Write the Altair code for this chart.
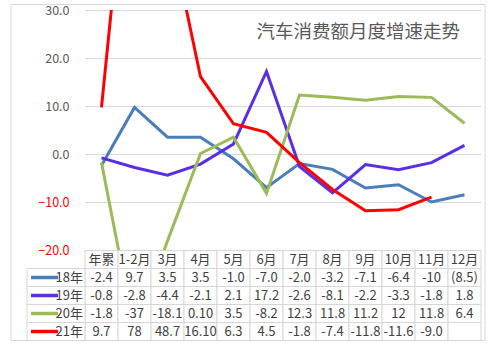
import altair as alt
import pandas as pd

categories = ["年累", "1-2月", "3月", "4月", "5月", "6月", "7月", "8月", "9月", "10月", "11月", "12月"]
series = ["18年", "19年", "20年", "21年"]
colors = ["#4a7ebb", "#5a2ee6", "#9bbb59", "#ff0000"]

v18 = [-2.4, 9.7, 3.5, 3.5, -1.0, -7.0, -2.0, -3.2, -7.1, -6.4, -10, -8.5]
v19 = [-0.8, -2.8, -4.4, -2.1, 2.1, 17.2, -2.6, -8.1, -2.2, -3.3, -1.8, 1.8]
v20 = [-1.8, -37, -18.1, 0.10, 3.5, -8.2, 12.3, 11.8, 11.2, 12, 11.8, 6.4]
v21 = [9.7, 78, 48.7, 16.10, 6.3, 4.5, -1.8, -7.4, -11.8, -11.6, -9.0, None]

t18 = ["-2.4", "9.7", "3.5", "3.5", "-1.0", "-7.0", "-2.0", "-3.2", "-7.1", "-6.4", "-10", "(8.5)"]
t19 = ["-0.8", "-2.8", "-4.4", "-2.1", "2.1", "17.2", "-2.6", "-8.1", "-2.2", "-3.3", "-1.8", "1.8"]
t20 = ["-1.8", "-37", "-18.1", "0.10", "3.5", "-8.2", "12.3", "11.8", "11.2", "12", "11.8", "6.4"]
t21 = ["9.7", "78", "48.7", "16.10", "6.3", "4.5", "-1.8", "-7.4", "-11.8", "-11.6", "-9.0", ""]

y_ticks = [-20, -10, 0, 10, 20, 30]
title_text = "汽车消费额月度增速走势"
header_key = " "

FONT = "Noto Sans CJK SC"
GRID = "#d6d6d6"
TXT = "#404040"

# ---- line data
line_rows = []
for s, vals in zip(series, [v18, v19, v20, v21]):
    for c, v in zip(categories, vals):
        if v is not None:
            line_rows.append({"cat": c, "series": s, "value": v})
line_df = pd.DataFrame(line_rows)

# ---- table data
rows = [header_key] + series
tab_rows = []
for c in categories:
    tab_rows.append({"col": c, "row": header_key, "txt": c})
for s, txts in zip(series, [t18, t19, t20, t21]):
    for c, t in zip(categories, txts):
        tab_rows.append({"col": c, "row": s, "txt": t})
tab_df = pd.DataFrame(tab_rows)
leg_df = pd.DataFrame({"row": series, "series": series})

color_enc = alt.Color("series:N", scale=alt.Scale(domain=series, range=colors), legend=None)

# ---- top chart
lines = alt.Chart(line_df).mark_line(strokeWidth=3, clip=True).encode(
    x=alt.X("cat:N", sort=categories,
            scale=alt.Scale(type="point", domain=categories, padding=0.5), axis=None),
    y=alt.Y("value:Q",
            scale=alt.Scale(domain=[-20, 30], nice=False, zero=False),
            axis=alt.Axis(values=y_ticks, grid=True, gridColor=GRID, domain=False,
                          ticks=False, labelPadding=16, labelFontSize=12.5, labelFont=FONT,
                          labelColor={"condition": {"test": "datum.value < 0", "value": "#ff0000"},
                                      "value": "#595959"},
                          format=".1f", title=None)),
    color=color_enc,
)

top = lines.properties(
    width=396, height=240,
    title=alt.TitleParams(title_text, anchor="end", fontSize=18.5, fontWeight="normal",
                          color="#595959", font=FONT, baseline="top", dx=-21, dy=41),
)

# ---- table chart
xcol = alt.X("col:N", sort=categories,
             scale=alt.Scale(domain=categories, paddingInner=0, paddingOuter=0), axis=None)
ycol = alt.Y("row:N", sort=rows,
             scale=alt.Scale(domain=rows, paddingInner=0, paddingOuter=0), axis=None)

frame = alt.Chart(pd.DataFrame({"a": [0]})).mark_rect(
    fillOpacity=0, stroke=GRID, strokeWidth=1
).encode(x=alt.value(-74), x2=alt.value(400), y=alt.value(-246), y2=alt.value(90))

cells = alt.Chart(tab_df).mark_rect(fill="white", stroke=GRID, strokeWidth=1).encode(x=xcol, y=ycol)
texts = alt.Chart(tab_df).mark_text(fontSize=13, color=TXT, font=FONT).encode(
    x=xcol, y=ycol, text="txt:N")

leg_cells = alt.Chart(leg_df).mark_rect(fill="white", stroke=GRID, strokeWidth=1).encode(
    x=alt.value(-58), x2=alt.value(0), y=ycol)
leg_swatch = alt.Chart(leg_df).mark_rule(strokeWidth=3.5).encode(
    x=alt.value(-54), x2=alt.value(-27), y=ycol, color=color_enc)
leg_text = alt.Chart(leg_df).mark_text(fontSize=13, color=TXT, font=FONT, align="right").encode(
    x=alt.value(-2), y=ycol, text="row:N")

table = alt.layer(frame, cells, texts, leg_cells, leg_swatch, leg_text).properties(
    width=396, height=90)

chart = alt.vconcat(top, table, spacing=0.5, bounds="flush").resolve_scale(
    x="independent", y="independent"
).properties(
    padding={"left": 10, "top": 4, "right": 5, "bottom": 5},
    background="white",
).configure_view(strokeWidth=0)

chart.save("out.html", embed_options={"renderer": "svg", "actions": False})
